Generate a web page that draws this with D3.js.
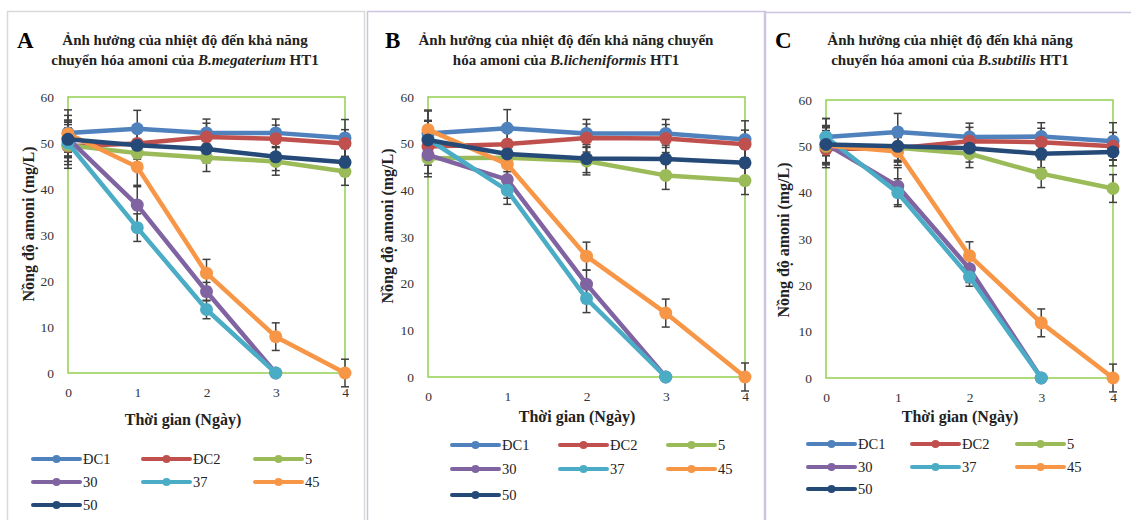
<!DOCTYPE html>
<html>
<head>
<meta charset="utf-8">
<script src="https://cdn.jsdelivr.net/npm/d3@7"></script>
<style>
  body { margin: 0; background: #fff; }
  svg { display: block; font-family: "Liberation Serif", "DejaVu Serif", serif; }
</style>
</head>
<body>
<div class="vis"></div>
<script>

//********************//
//        DATA        //
//********************//

var days = [0, 1, 2, 3, 4];
var yTicks = [0, 10, 20, 30, 40, 50, 60];
var seriesNames = ["ĐC1", "ĐC2", "5", "30", "37", "45", "50"];
var seriesColours = ["#4F81BD", "#C0504D", "#9BBB59", "#8064A2", "#4BACC6", "#F79646", "#254A78"];

// panel A - B.megaterium
var valuesA = [
	[52.2, 53.1, 52.2, 52.2, 51.1],
	[49.3, 49.9, 51.3, 50.9, 49.9],
	[49.5, 47.8, 46.8, 46.0, 43.8],
	[51.0, 36.5, 17.7, 0, null],
	[50.0, 31.6, 13.8, 0, null],
	[52.0, 44.8, 21.7, 7.9, 0],
	[50.8, 49.5, 48.7, 47.0, 45.8]
];
var errorsA = [
	[5, 4, 3, 3, 4],
	[4, 3, 3, 3, 3],
	[5, 3, 3, 3, 3],
	[4, 4, 2, 0, null],
	[4, 3, 2, 0, null],
	[4, 4, 3, 3, 3],
	[4, 3, 3, 3, 3]
];

// panel B - B.licheniformis
var valuesB = [
	[52.2, 53.3, 52.2, 52.2, 50.9],
	[49.4, 49.9, 51.2, 51.1, 49.9],
	[46.9, 47.0, 46.3, 43.2, 42.1],
	[47.6, 42.3, 19.9, 0, null],
	[51.0, 40.0, 16.8, 0, null],
	[53.0, 45.6, 25.9, 13.7, 0],
	[50.8, 47.8, 46.8, 46.7, 45.9]
];
var errorsB = [
	[5, 4, 3, 3, 4],
	[4, 3, 3, 3, 3],
	[4, 3, 3, 3, 3],
	[4, 4, 3, 0, null],
	[4, 3, 3, 0, null],
	[4, 4, 3, 3, 3],
	[4, 3, 3, 3, 3]
];

// panel C - B.subtilis
var valuesC = [
	[52.0, 53.1, 52.0, 52.1, 51.1],
	[49.4, 49.6, 51.1, 50.9, 50.0],
	[50.0, 49.7, 48.4, 44.1, 40.9],
	[50.5, 41.4, 23.6, 0, null],
	[52.0, 40.0, 21.8, 0, null],
	[50.2, 48.9, 26.4, 11.9, 0],
	[50.4, 50.0, 49.6, 48.4, 48.8]
];
var errorsC = [
	[4, 4, 3, 3, 4],
	[4, 3, 3, 3, 3],
	[4, 3, 3, 3, 3],
	[4, 4, 3, 0, null],
	[4, 3, 2, 0, null],
	[4, 3, 3, 3, 3],
	[4, 3, 3, 3, 3]
];


//********************//
//   LAYOUT / PANELS  //
//********************//

var W = 1131, H = 520;
var svg = d3.select(".vis").append("svg")
	.attr("width", W)
	.attr("height", H);

var panels = [
	{ letter: "A", species: "B.megaterium", values: valuesA, errors: errorsA,
	  frame: { x: 7, y: 11, w: 357, stroke: "#d9d9d9" },
	  plot: { left: 68, right: 345, top: 97, bottom: 373 },
	  letterX: 17, titleCx: 185, line1: "Ảnh hưởng của nhiệt độ đến khả năng", line2pre: "chuyển hóa amoni của ",
	  yTitleX: 28, yTitleCy: 224, xTitleCx: 183, xTitleY: 425,
	  legend: { cols: [33, 143, 255], rows: [459, 482, 505] } },
	{ letter: "B", species: "B.licheniformis", values: valuesB, errors: errorsB,
	  frame: { x: 367, y: 11, w: 398, stroke: "#cdc5e0" },
	  plot: { left: 428, right: 745, top: 97, bottom: 377 },
	  letterX: 385, titleCx: 566, line1: "Ảnh hưởng của nhiệt độ đến khả năng chuyển", line2pre: "hóa amoni của ",
	  yTitleX: 387, yTitleCy: 226, xTitleCx: 577, xTitleY: 422,
	  legend: { cols: [452, 560, 668], rows: [445, 469, 495] } },
	{ letter: "C", species: "B.subtilis", values: valuesC, errors: errorsC,
	  frame: { x: 764, y: 12, w: 400, stroke: "#cdc5e0" },
	  plot: { left: 826, right: 1113, top: 100, bottom: 378 },
	  letterX: 775, titleCx: 950, line1: "Ảnh hưởng của nhiệt độ đến khả năng", line2pre: "chuyển hóa amoni của ",
	  yTitleX: 783, yTitleCy: 240, xTitleCx: 960, xTitleY: 422,
	  legend: { cols: [808, 912, 1017], rows: [444, 467, 489] } }
];

panels.forEach(function(p) { drawPanel(p); });


//*********************//
//	Custom functions   //
//*********************//

function drawPanel(p) {
	var g = svg.append("g");

	// panel frame
	g.append("rect")
		.attr("x", p.frame.x + 0.5)
		.attr("y", p.frame.y + 0.5)
		.attr("width", p.frame.w)
		.attr("height", H)
		.attr("fill", "none")
		.attr("stroke", p.frame.stroke)
		.attr("stroke-width", 1.5);

	// letter + title
	g.append("text")
		.attr("x", p.letterX)
		.attr("y", 48)
		.attr("font-size", 23)
		.attr("font-weight", "bold")
		.text(p.letter);

	g.append("text")
		.attr("x", p.titleCx)
		.attr("y", 45)
		.attr("text-anchor", "middle")
		.attr("font-size", 15)
		.attr("font-weight", "bold")
		.attr("fill", "#222")
		.text(p.line1);

	var t2 = g.append("text")
		.attr("x", p.titleCx)
		.attr("y", 65)
		.attr("text-anchor", "middle")
		.attr("font-size", 15)
		.attr("font-weight", "bold")
		.attr("fill", "#222");
	t2.append("tspan").text(p.line2pre);
	t2.append("tspan").attr("font-style", "italic").text(p.species);
	t2.append("tspan").text(" HT1");

	// scales
	var x = d3.scaleLinear().domain([0, 4]).range([p.plot.left, p.plot.right]);
	var y = d3.scaleLinear().domain([0, 60]).range([p.plot.bottom, p.plot.top]);

	// plot border
	g.append("rect")
		.attr("x", p.plot.left)
		.attr("y", p.plot.top)
		.attr("width", p.plot.right - p.plot.left)
		.attr("height", p.plot.bottom - p.plot.top)
		.attr("fill", "none")
		.attr("stroke", "#92D050")
		.attr("stroke-width", 1.5);

	// axes (labels only, no lines)
	var yAxis = g.append("g")
		.attr("transform", "translate(" + p.plot.left + ",0)")
		.call(d3.axisLeft(y).tickValues(yTicks).tickSize(0).tickPadding(14));
	var xAxis = g.append("g")
		.attr("transform", "translate(0," + p.plot.bottom + ")")
		.call(d3.axisBottom(x).tickValues(days).tickFormat(d3.format("d")).tickSize(0).tickPadding(14));
	[yAxis, xAxis].forEach(function(a) {
		a.select(".domain").remove();
		a.selectAll("text")
			.attr("font-family", "Liberation Serif, serif")
			.attr("font-size", 13.5)
			.attr("fill", "#333");
	});

	// axis titles
	g.append("text")
		.attr("transform", "translate(" + p.yTitleX + "," + p.yTitleCy + ") rotate(-90)")
		.attr("text-anchor", "middle")
		.attr("dy", "0.35em")
		.attr("font-size", 16)
		.attr("font-weight", "bold")
		.attr("fill", "#222")
		.text("Nồng độ amoni (mg/L)");

	g.append("text")
		.attr("x", p.xTitleCx)
		.attr("y", p.xTitleY)
		.attr("text-anchor", "middle")
		.attr("font-size", 16)
		.attr("font-weight", "bold")
		.attr("fill", "#222")
		.text("Thời gian (Ngày)");

	// error bars
	var capW = 4;
	var eb = g.append("g").attr("stroke", "#404040").attr("stroke-width", 1.5);
	p.values.forEach(function(vals, s) {
		vals.forEach(function(v, i) {
			var e = p.errors[s][i];
			if (v == null || e == null || e === 0) return;
			var cx = x(days[i]);
			eb.append("line").attr("x1", cx).attr("x2", cx).attr("y1", y(v - e)).attr("y2", y(v + e));
			eb.append("line").attr("x1", cx - capW).attr("x2", cx + capW).attr("y1", y(v + e)).attr("y2", y(v + e));
			eb.append("line").attr("x1", cx - capW).attr("x2", cx + capW).attr("y1", y(v - e)).attr("y2", y(v - e));
		});
	});

	// series lines + markers
	var line = d3.line()
		.defined(function(d) { return d.v != null; })
		.x(function(d) { return x(d.day); })
		.y(function(d) { return y(d.v); });

	p.values.forEach(function(vals, s) {
		var pts = vals.map(function(v, i) { return { day: days[i], v: v }; });
		g.append("path")
			.datum(pts)
			.attr("d", line)
			.attr("fill", "none")
			.attr("stroke", seriesColours[s])
			.attr("stroke-width", 4.5)
			.attr("stroke-linejoin", "round");
		g.selectAll(null)
			.data(pts.filter(function(d) { return d.v != null; }))
			.enter().append("circle")
			.attr("cx", function(d) { return x(d.day); })
			.attr("cy", function(d) { return y(d.v); })
			.attr("r", 6.5)
			.attr("fill", seriesColours[s]);
	});

	// legend
	seriesNames.forEach(function(name, s) {
		var lx = p.legend.cols[s % 3];
		var ly = p.legend.rows[Math.floor(s / 3)];
		g.append("line")
			.attr("x1", lx).attr("x2", lx + 47)
			.attr("y1", ly).attr("y2", ly)
			.attr("stroke", seriesColours[s])
			.attr("stroke-width", 4)
			.attr("stroke-linecap", "round");
		g.append("circle")
			.attr("cx", lx + 23.5).attr("cy", ly)
			.attr("r", 4)
			.attr("fill", seriesColours[s]);
		g.append("text")
			.attr("x", lx + 50)
			.attr("y", ly)
			.attr("dy", "0.35em")
			.attr("font-size", 14.5)
			.attr("fill", "#222")
			.text(name);
	});
}
</script>
</body>
</html>
